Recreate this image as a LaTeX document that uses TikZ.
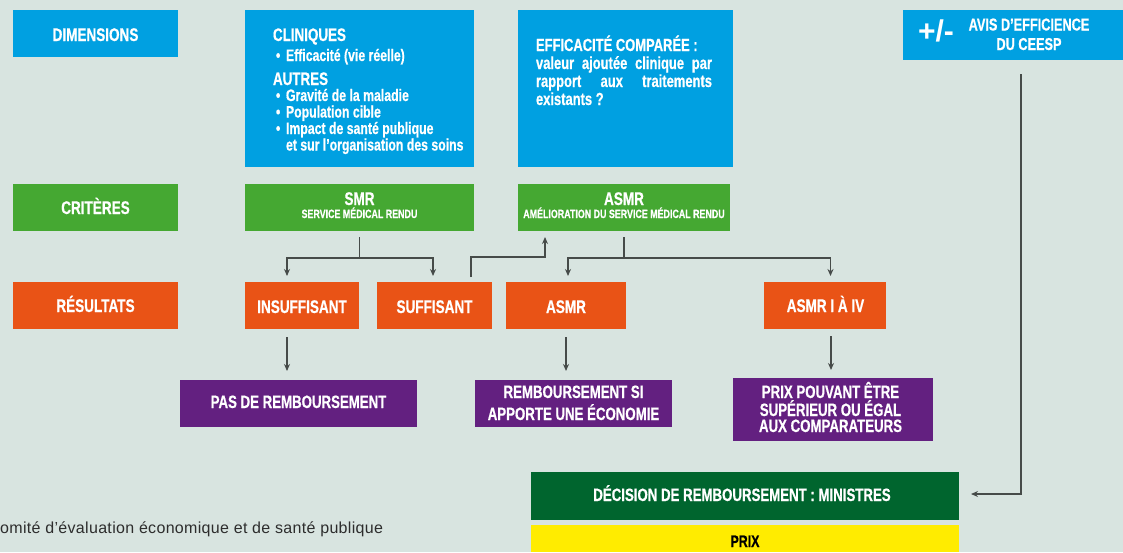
\documentclass[tikz,border=0pt]{standalone}
\usepackage{fontspec}
\setmainfont{Liberation Sans}
\newfontfamily\cond[FakeStretch=0.74,FakeBold=0.6]{Liberation Sans Bold}
\newfontfamily\plainbold{Liberation Sans Bold}
\newfontfamily\footfont[LetterSpace=2]{Liberation Sans}
\usetikzlibrary{arrows.meta,calc}
\definecolor{bgc}{RGB}{216,228,224}
\definecolor{cblue}{RGB}{0,160,225}
\definecolor{cgreen}{RGB}{69,168,50}
\definecolor{corange}{RGB}{233,83,22}
\definecolor{cpurple}{RGB}{99,32,128}
\definecolor{cdkgreen}{RGB}{0,101,46}
\definecolor{cyellow}{RGB}{255,236,0}
\definecolor{cline}{RGB}{70,75,73}
\definecolor{cfoot}{RGB}{45,45,45}
\newcommand{\fs}[1]{\fontsize{#1}{#1}\selectfont}
\begin{document}
\begin{tikzpicture}[x=1pt,y=-1pt,
  boxx/.style={inner sep=0pt,outer sep=0pt,draw=none},
  txt/.style={inner sep=0pt,outer sep=0pt,text=white,anchor=base},
  txtl/.style={inner sep=0pt,outer sep=0pt,text=white,anchor=base west},
  ttl/.style={font=\cond\fs{18.3}},
  sub/.style={font=\cond\fs{12}},
  body/.style={font=\cond\fs{16.6}},
  pur/.style={font=\cond\fs{17.9}},
  ln/.style={draw=cline,line width=1.2pt},
  arr/.style={draw=cline,line width=1.2pt,-{Stealth[length=7pt,width=6pt]}}
]
\fill[bgc] (0,0) rectangle (1123,552);
\useasboundingbox (0,0) rectangle (1123,552);

% ---- boxes
\node[boxx,fill=cblue,minimum width=165pt,minimum height=47pt] (dim) at (95.5,33.5) {};
\node[boxx,fill=cgreen,minimum width=165pt,minimum height=47pt] (crit) at (95.5,207.5) {};
\node[boxx,fill=corange,minimum width=165pt,minimum height=47pt] (res) at (95.5,305.5) {};
\node[boxx,fill=cblue,minimum width=229pt,minimum height=157pt] (clin) at (359.5,88.5) {};
\node[boxx,fill=cblue,minimum width=215pt,minimum height=157pt] (eff) at (625.5,88.5) {};
\node[boxx,fill=cblue,minimum width=220pt,minimum height=50pt] (ceesp) at (1013,35) {};
\node[boxx,fill=cgreen,minimum width=229pt,minimum height=47pt] (smr) at (359.5,207.5) {};
\node[boxx,fill=cgreen,minimum width=212pt,minimum height=47pt] (asmr) at (624,207.5) {};
\node[boxx,fill=corange,minimum width=114pt,minimum height=47pt] (insuff) at (302,305.5) {};
\node[boxx,fill=corange,minimum width=115pt,minimum height=47pt] (suff) at (434.5,305.5) {};
\node[boxx,fill=corange,minimum width=120pt,minimum height=47pt] (asmro) at (566,305.5) {};
\node[boxx,fill=corange,minimum width=122pt,minimum height=47pt] (asmrq) at (825,305.5) {};
\node[boxx,fill=cpurple,minimum width=237pt,minimum height=47pt] (pas) at (298.5,403.5) {};
\node[boxx,fill=cpurple,minimum width=197pt,minimum height=47pt] (remb) at (573.5,403.5) {};
\node[boxx,fill=cpurple,minimum width=200pt,minimum height=63pt] (prixp) at (833,409.5) {};
\node[boxx,fill=cdkgreen,minimum width=428pt,minimum height=48pt] (dec) at (745,496) {};
\node[boxx,fill=cyellow,minimum width=428pt,minimum height=27pt] (prix) at (745,538.5) {};

% ---- texts
\node[txt,ttl] (dimT) at (95.5,41) {DIMENSIONS};
\node[txt,ttl] (critT) at (95.5,214) {CRITÈRES};
\node[txt,ttl] (resT) at (95.5,312) {RÉSULTATS};

\node[txtl,font=\cond\fs{18.1}] (c1) at (273,41) {CLINIQUES};
\node[txtl,body] (c2) at (276,61) {\makebox[10pt][l]{•}Efficacité (vie réelle)};
\node[txtl,font=\cond\fs{18.1}] (c3) at (273,85) {AUTRES};
\node[txtl,body] (c4) at (276,101) {\makebox[10pt][l]{•}Gravité de la maladie};
\node[txtl,body] (c5) at (276,117.5) {\makebox[10pt][l]{•}Population cible};
\node[txtl,body] (c6) at (276,134) {\makebox[10pt][l]{•}Impact de santé publique};
\node[txtl,body] (c7) at (286,150.5) {et sur l’organisation des soins};

\node[txtl,font=\cond\fs{17.5}] (e1) at (536,51) {EFFICACITÉ COMPARÉE :};
\node[txtl,font=\cond\fs{17.5}] (e2) at (536,69) {\makebox[176pt][s]{valeur ajoutée clinique par}};
\node[txtl,font=\cond\fs{17.5}] (e3) at (536,87) {\makebox[176pt][s]{rapport aux traitements}};
\node[txtl,font=\cond\fs{17.5}] (e4) at (536,105) {existants ?};

\node[txt,font=\plainbold\fs{30}] (pm) at (936,41) {+/-};
\node[txt,font=\cond\fs{17.2}] (av1) at (1029,30.5) {AVIS D’EFFICIENCE};
\node[txt,font=\cond\fs{17.2}] (av2) at (1029,50) {DU CEESP};

\node[txt,ttl] (smrT) at (359.5,205) {SMR};
\node[txt,sub] (smrS) at (359.5,218) {SERVICE MÉDICAL RENDU};
\node[txt,ttl] (asmrT) at (624,205) {ASMR};
\node[txt,sub] (asmrS) at (624,218) {AMÉLIORATION DU SERVICE MÉDICAL RENDU};

\node[txt,ttl] (insT) at (302,313) {INSUFFISANT};
\node[txt,ttl] (sufT) at (434.5,313) {SUFFISANT};
\node[txt,ttl] (asoT) at (566,313) {ASMR};
\node[txt,ttl] (asqT) at (825.5,312) {ASMR I À IV};

\node[txt,pur] (pasT) at (298.5,408) {PAS DE REMBOURSEMENT};
\node[txt,pur] (rb1) at (573.5,398) {REMBOURSEMENT SI};
\node[txt,pur] (rb2) at (573.5,420) {APPORTE UNE ÉCONOMIE};
\node[txt,pur] (pp1) at (830.5,398) {PRIX POUVANT ÊTRE};
\node[txt,pur] (pp2) at (830.5,416) {SUPÉRIEUR OU ÉGAL};
\node[txt,pur] (pp3) at (830.5,432) {AUX COMPARATEURS};

\node[txt,pur] (decT) at (742,501) {DÉCISION DE REMBOURSEMENT : MINISTRES};
\node[txt,font=\cond\fs{16.7},text=black] (prixT) at (745,547) {PRIX};

\node[inner sep=0pt,anchor=base west,text=cfoot,font=\footfont\fs{16}] (foot) at (0,533) {omité d’évaluation économique et de santé publique};

% ---- connectors
\coordinate (j1) at (359.5,258);
\coordinate (j2) at (545,257);
\coordinate (j3) at (624,258);
\draw[ln] ([yshift=-6pt]smr.south) -- (j1);
\draw[arr] (j1) -| ([xshift=-15pt,yshift=6pt]insuff.north);
\draw[arr] (j1) -| ([xshift=-1.5pt,yshift=6pt]suff.north);
\draw[arr] ([xshift=36.5pt,yshift=5pt]suff.north) |- (j2) -- ([xshift=-79pt,yshift=-6pt]asmr.south);
\draw[ln] ([yshift=-6pt]asmr.south) -- (j3);
\draw[arr] (j3) -| ([xshift=2pt,yshift=6pt]asmro.north);
\draw[arr] (j3) -| ([xshift=5.5pt,yshift=6pt]asmrq.north);
\draw[arr] ([xshift=-15pt,yshift=-8pt]insuff.south) -- ([xshift=-11.5pt,yshift=9pt]pas.north);
\draw[arr] ([yshift=-8pt]asmro.south) -- ([xshift=-7.5pt,yshift=9pt]remb.north);
\draw[arr] ([xshift=6pt,yshift=-7pt]asmrq.south) -- ([xshift=-2pt,yshift=8pt]prixp.north);
\draw[arr] ([xshift=8pt,yshift=-14pt]ceesp.south) |- ([xshift=12pt,yshift=2pt]dec.east);
\end{tikzpicture}
\end{document}
